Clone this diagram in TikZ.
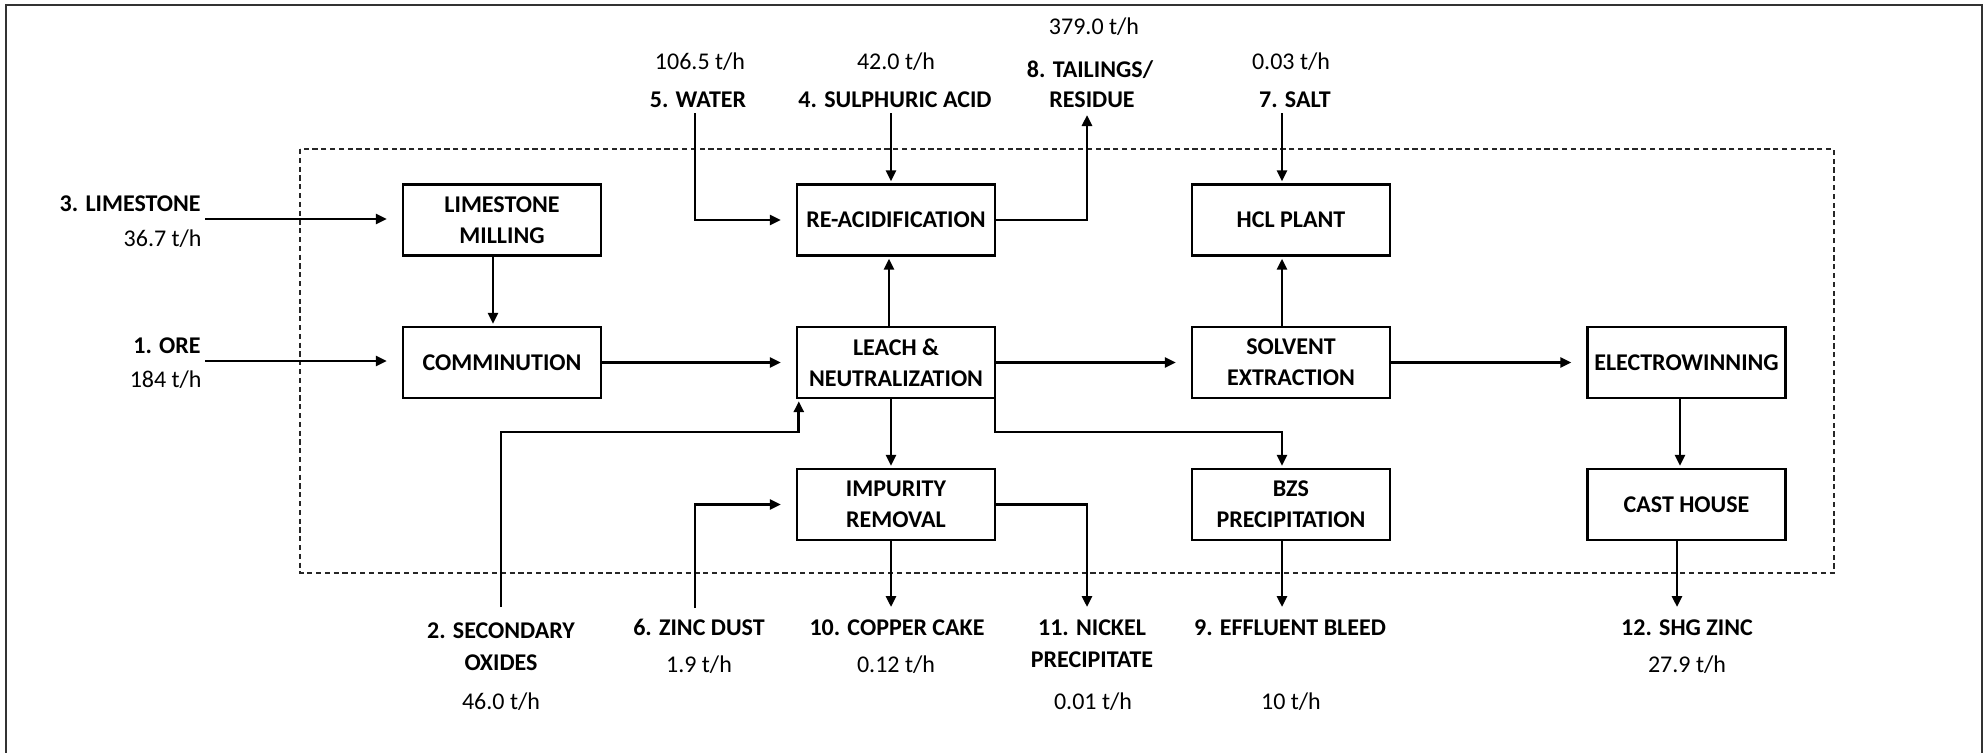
\documentclass[tikz,border=0pt]{standalone}
\usepackage{fontspec}
\setmainfont{Carlito}
\usetikzlibrary{arrows.meta}

\begin{document}
\begin{tikzpicture}[x=0.5pt,y=-0.5pt,
  unit/.style={draw, line width=1.2pt, minimum width=99pt, minimum height=35.5pt,
    inner sep=1pt, align=center, font=\fontsize{12}{15.5}\selectfont\bfseries},
  lab/.style={inner sep=0pt, anchor=base, font=\fontsize{12}{15.5}\selectfont\bfseries},
  rate/.style={inner sep=0pt, anchor=base, font=\fontsize{12}{15.5}\selectfont},
  flow/.style={line width=1.35pt, -{Triangle[length=5.5pt,width=5pt]}},
  flowh/.style={flow, shorten >=7.5pt},
  flowv/.style={flow, shorten >=1pt},
]
\useasboundingbox (0,0) rectangle (1986,752);

% outer frame and plant boundary
\draw[line width=0.9pt, black!80] (6,5) rectangle (1982,780);
\draw[line width=0.6pt, black!85, dash pattern=on 2.6pt off 1.8pt] (300,149) rectangle (1834,573);

% process units
\node[unit] (lm)    at (502,220)    {LIMESTONE\\MILLING};
\node[unit] (comm)  at (502,362.5)  {COMMINUTION};
\node[unit] (reac)  at (896,220)    {RE-ACIDIFICATION};
\node[unit] (leach) at (896,362.5)  {LEACH \&\\NEUTRALIZATION};
\node[unit] (imp)   at (896,504.5)  {IMPURITY\\REMOVAL};
\node[unit] (hcl)   at (1291,220)   {HCL PLANT};
\node[unit] (sx)    at (1291,362.5) {SOLVENT\\EXTRACTION};
\node[unit] (bzs)   at (1291,504.5) {BZS\\PRECIPITATION};
\node[unit] (ew)    at (1686.5,362.5) {ELECTROWINNING};
\node[unit] (cast)  at (1686.5,504.5) {CAST HOUSE};

% stream labels: left
\node[lab, anchor=base east]  (limlab)  at (201,211.5) {3. LIMESTONE};
\node[rate, anchor=base east] (limrate) at (202,246.5) {36.7 t/h};
\node[lab, anchor=base east]  (orelab)  at (201,353.5) {1. ORE};
\node[rate, anchor=base east] (orerate) at (202,387.5) {184 t/h};

% stream labels: top
\node[rate] (watrate)  at (700,69.5)   {106.5 t/h};
\node[lab]  (watlab)   at (698,107.5)  {5. WATER};
\node[rate] (sulrate)  at (896,69.5)   {42.0 t/h};
\node[lab]  (sullab)   at (895,107.5)  {4. SULPHURIC ACID};
\node[rate] (tailrate) at (1094,34.5)  {379.0 t/h};
\node[lab]  (taillab)  at (1090,77.5)  {8. TAILINGS/};
\node[lab]  (taillabb) at (1092,107.5) {RESIDUE};
\node[rate] (saltrate) at (1291,69.5)  {0.03 t/h};
\node[lab]  (saltlab)  at (1295,107.5) {7. SALT};

% stream labels: bottom
\node[lab]  (seclab)   at (501,638.5) {2. SECONDARY};
\node[lab]  (seclabb)  at (501,670)   {OXIDES};
\node[rate] (secrate)  at (501,709.5) {46.0 t/h};
\node[lab]  (zinclab)  at (699,635.5) {6. ZINC DUST};
\node[rate] (zincrate) at (699,672.5) {1.9 t/h};
\node[lab]  (culab)    at (897,635.5) {10. COPPER CAKE};
\node[rate] (curate)   at (896,672.5) {0.12 t/h};
\node[lab]  (nilab)    at (1092,635.5) {11. NICKEL};
\node[lab]  (nilabb)   at (1092,667.5) {PRECIPITATE};
\node[rate] (nirate)   at (1093,709.5) {0.01 t/h};
\node[lab]  (efflab)   at (1290,635.5) {9. EFFLUENT BLEED};
\node[rate] (effrate)  at (1291,709.5) {10 t/h};
\node[lab]  (shglab)   at (1687,635.5) {12. SHG ZINC};
\node[rate] (shgrate)  at (1687,672.5) {27.9 t/h};

% free stream ends
\coordinate (limin)   at (205,219);
\coordinate (orein)   at (205,361);
\coordinate (watin)   at (695,113);
\coordinate (sulin)   at (891,113);
\coordinate (tailout) at (1087,113);
\coordinate (saltin)  at (1282,113);
\coordinate (secin)   at (501,607);
\coordinate (secbend) at (501,432);
\coordinate (zincin)  at (695,608);
\coordinate (cuout)   at (891,609);
\coordinate (niout)   at (1087,609);
\coordinate (bzsrow)  at (994,432);
\coordinate (effout)  at (1282,609);
\coordinate (shgout)  at (1677,609);

% feeds
\draw[flowh] (limin) -- (limin -| lm.west);
\draw[flowh] (orein) -- (orein -| comm.west);
\draw[flowh] (watin) |- (reac.west);
\draw[flowv] (sulin) -- (sulin |- reac.north);
\draw[flowv] (saltin) -- (saltin |- hcl.north);
\draw[flowv] (secin) -- (secbend) -| ([xshift=1.5pt]leach.south west);
\draw[flowh] (zincin) |- (imp.west);

% internal flows
\draw[flowv] ([xshift=-4.5pt]lm.south) -- ([xshift=-4.5pt]comm.north);
\draw[flowh] (comm.east) -- (leach.west);
\draw[flowv] ([xshift=-3.5pt]leach.north) -- ([xshift=-3.5pt]reac.south);
\draw[flowh] (leach.east) -- (sx.west);
\draw[flowv] ([xshift=-4.5pt]sx.north) -- ([xshift=-4.5pt]hcl.south);
\draw[flowh] (sx.east) -- (ew.west);
\draw[flowv] ([xshift=-3.25pt]ew.south) -- ([xshift=-3.25pt]cast.north);
\draw[flowv] ([xshift=-2.5pt]leach.south) -- ([xshift=-2.5pt]imp.north);
\draw[flowv] ([xshift=-0.6pt]leach.south east) |- (bzsrow) -| ([xshift=-4.5pt]bzs.north);

% products
\draw[flowv] (reac.east) -| (tailout);
\draw[flowv] (cuout |- imp.south) -- (cuout);
\draw[flowv] (imp.east) -| (niout);
\draw[flowv] (effout |- bzs.south) -- (effout);
\draw[flowv] (shgout |- cast.south) -- (shgout);
\end{tikzpicture}
\end{document}
